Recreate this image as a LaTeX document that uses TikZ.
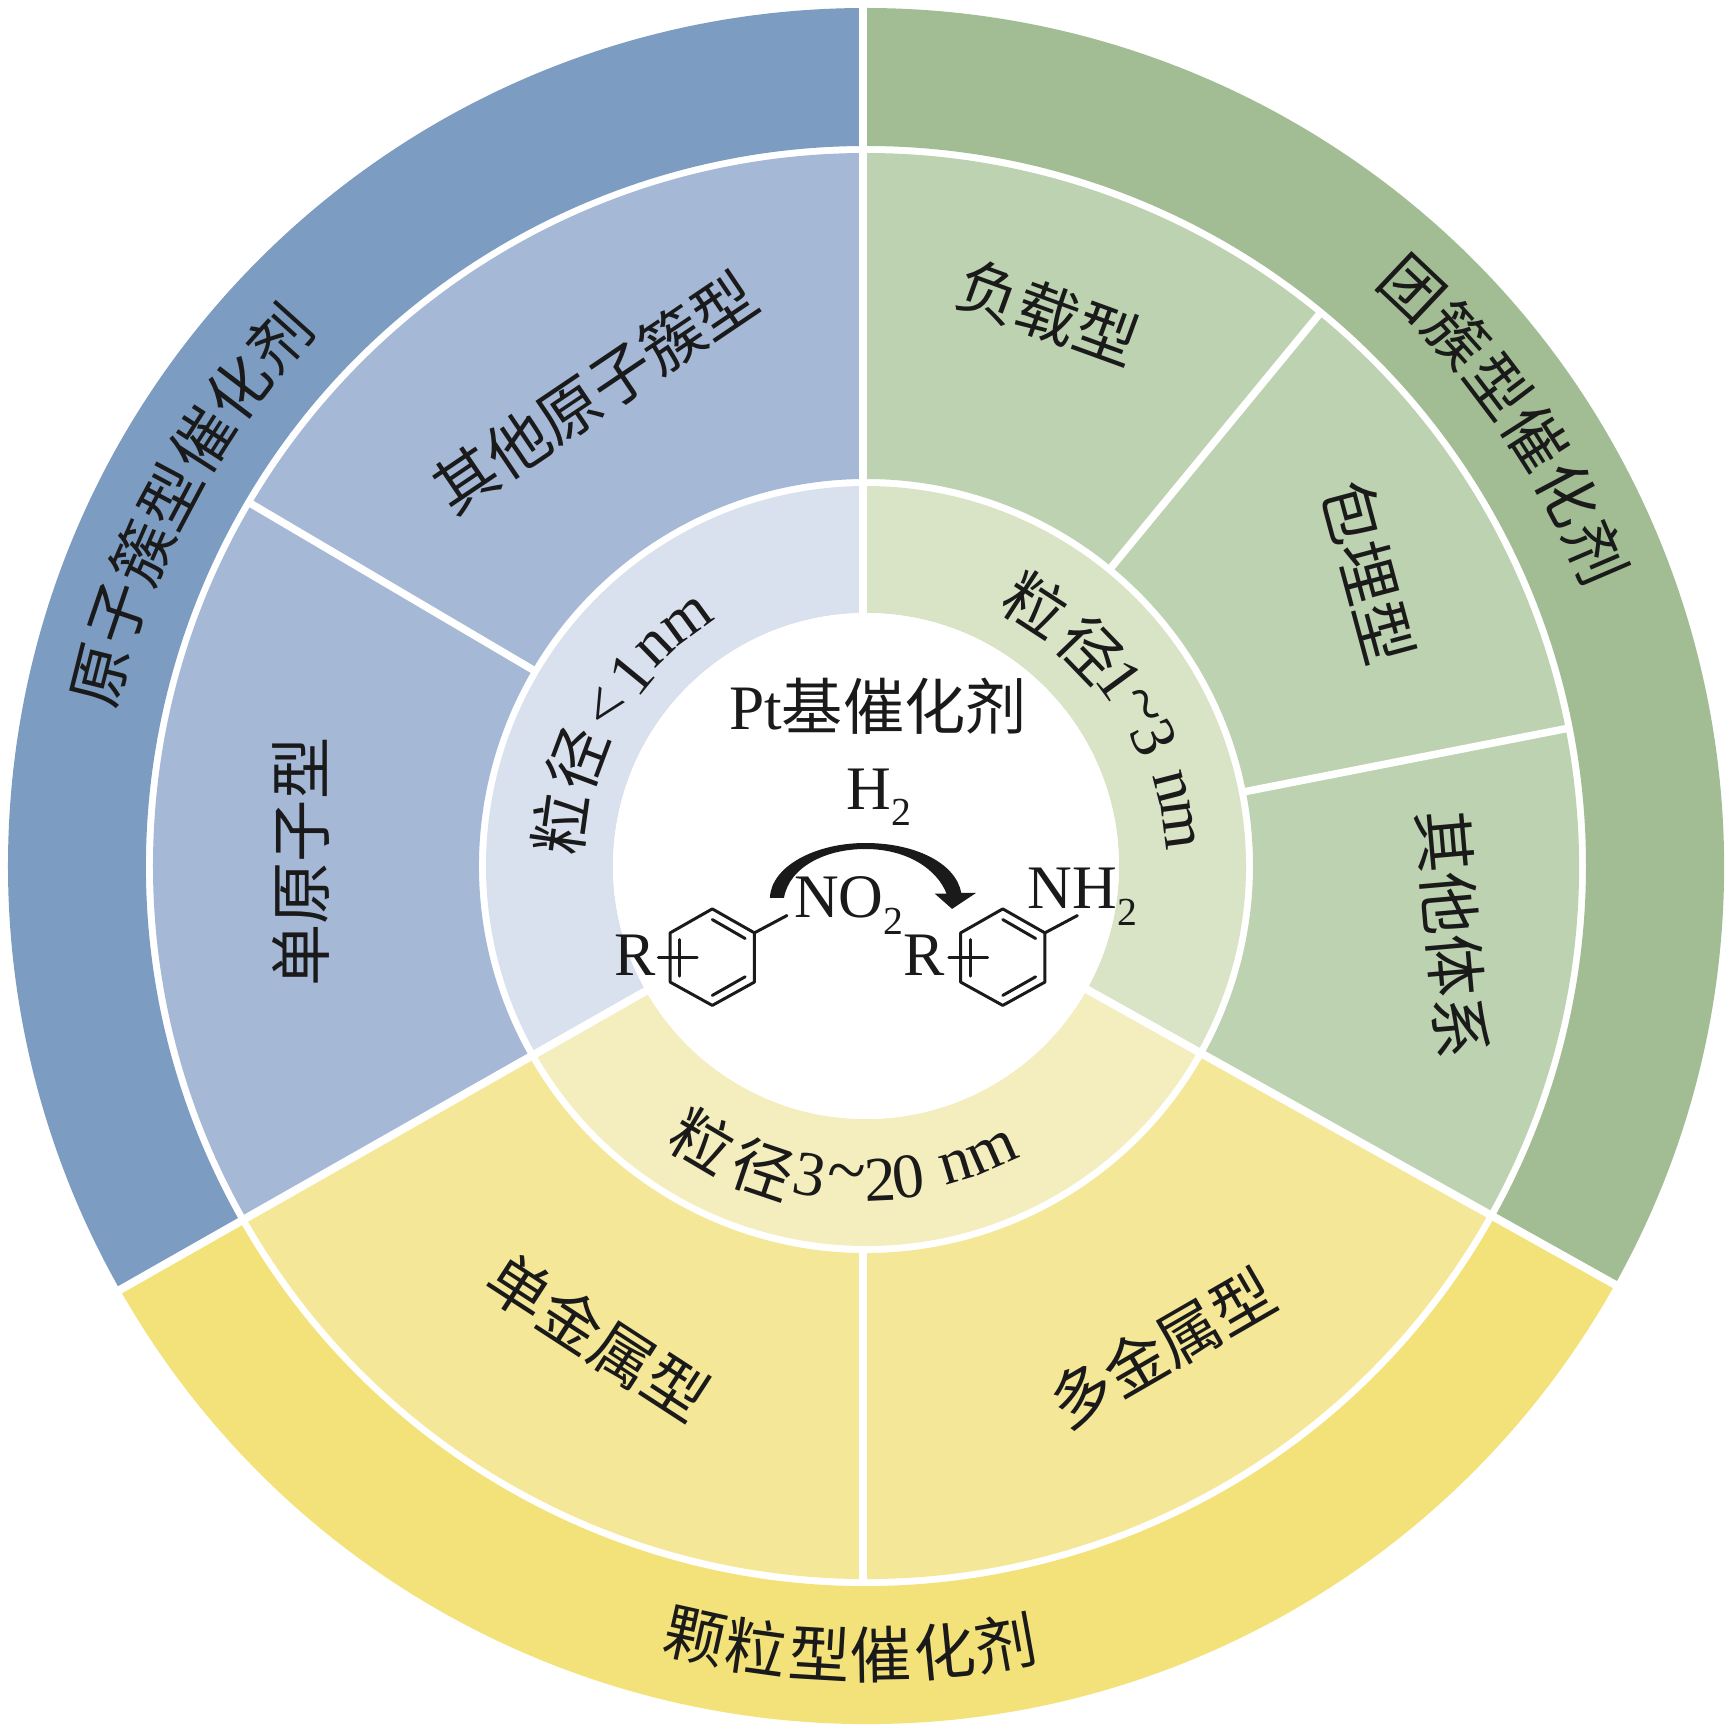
\documentclass[tikz,border=0pt]{standalone}
\usepackage{fontspec}
\setmainfont{Liberation Serif}
\newfontfamily\cjk{Noto Sans CJK SC}
\definecolor{bluA}{HTML}{7D9CC1}
\definecolor{bluB}{HTML}{A5B9D6}
\definecolor{bluC}{HTML}{D9E0EE}
\definecolor{grnA}{HTML}{A2BD94}
\definecolor{grnB}{HTML}{BDD2B0}
\definecolor{grnC}{HTML}{D9E3C5}
\definecolor{yelA}{HTML}{F3E27A}
\definecolor{yelB}{HTML}{F5E798}
\definecolor{yelC}{HTML}{F4EDBD}
\definecolor{ink}{HTML}{1A1A1A}
\newcommand{\sector}[5]{\fill[#1] (#2:#5) arc[start angle=#2,end angle=#3,radius=#5] -- (#3:#4) arc[start angle=#3,end angle=#2,radius=#4] -- cycle;}
\tikzset{
  lblbase/.style={inner sep=0pt,outer sep=0pt,text=ink},
  outerlbl/.style={lblbase,font=\fontsize{17.5pt}{20pt}\cjk},
  midlbl/.style={lblbase,font=\fontsize{17.7pt}{20pt}\cjk},
  ringlbl/.style={lblbase,font=\fontsize{17.5pt}{20pt}\cjk},
  ringlat/.style={lblbase,font=\fontsize{18pt}{20pt}\selectfont},
  chemlbl/.style={lblbase,anchor=base west,font=\fontsize{17.6pt}{20pt}\selectfont},
  chemsub/.style={lblbase,anchor=base west,font=\fontsize{11.3pt}{14pt}\selectfont},
  divider/.style={white,line width=8*0.2845pt},
  thindiv/.style={white,line width=7.5*0.2845pt},
  bond/.style={ink,line width=0.85pt,line cap=round,line join=round},
}
\begin{document}
\begin{tikzpicture}[x=0.01cm,y=0.01cm]
\useasboundingbox (-866,-867) rectangle (867,866);
% outer ring
\sector{bluA}{90}{209.6}{720}{858}
\sector{grnA}{-29.2}{90}{720}{858}
\sector{yelA}{209.6}{330.8}{720}{858}
% middle ring
\sector{bluB}{90}{209.6}{387}{713}
\sector{grnB}{-29.2}{90}{387}{713}
\sector{yelB}{209.6}{330.8}{387}{713}
% inner ring
\sector{bluC}{90}{209.6}{253}{380}
\sector{grnC}{-29.2}{90}{253}{380}
\sector{yelC}{209.6}{330.8}{253}{380}
% dividers
\coordinate (c) at (0,0);
\coordinate (vt) at (-3,870);
\coordinate (vb) at (-3,0);
\draw[divider] (vt) -- (vb);
\draw[divider] (c) -- (209.6:880);
\draw[divider] (c) -- (330.8:880);
\draw[thindiv] (149.5:384) -- (149.5:716);
\draw[thindiv] (50.6:384) -- (50.6:716);
\draw[thindiv] (11.1:384) -- (11.1:716);
\draw[thindiv] (-3,-384) -- (-3,-716);
\fill[white] (0,0) circle[radius=253];
% outer labels
\foreach \a/\ch [count=\i] in {166/原,161.3/子,156.6/簇,152/型,147.3/催,142.7/化,138/剂}
  \node[outerlbl,rotate=\a-90] (oa\i) at (\a:789) {\ch};
\foreach \a/\ch [count=\i] in {46.6/团,41.9/簇,37.2/型,32.6/催,27.9/化,23.2/剂}
  \node[outerlbl,rotate=\a-90] (ob\i) at (\a:795) {\ch};
\foreach \a/\ch [count=\i] in {257.5/颗,262/粒,266.6/型,271.1/催,275.7/化,280.2/剂}
  \node[outerlbl,rotate=\a+90] (oc\i) at (\a:789) {\ch};
% middle labels
\node[midlbl,rotate=34] (m1) at (-271,474) {其他原子簇型};
\node[midlbl,rotate=90] (m2) at (-565,4) {单原子型};
\node[midlbl,rotate=-20] (m3) at (182,553) {负载型};
\node[midlbl,rotate=-75] (m4) at (503,294) {包埋型};
\node[midlbl,rotate=-85] (m5) at (587,-68) {其他体系};
\node[midlbl,rotate=-33] (m6) at (-268,-471) {单金属型};
\node[midlbl,rotate=30] (m7) at (296,-482) {多金属型};
% ring labels
\foreach \a/\ch [count=\i] in {172.1/粒,159.5/径}
  \node[ringlbl,rotate=\a-90] (ra\i) at (\a:308) {\ch};
\foreach \a/\ch [count=\i] in {148.8/<,140.7/1,134/n,126/m}
  \node[ringlat,rotate=\a-90] (rb\i) at (\a:303) {\ch};
\foreach \a/\ch [count=\i] in {57/粒,44/径}
  \node[ringlbl,rotate=\a-90] (rc\i) at (\a:312) {\ch};
\foreach \a/\ch [count=\i] in {36.2/1,30/{\fontsize{20pt}{20pt}\selectfont\textasciitilde},24/3,14.5/n,7.4/m}
  \node[ringlat,rotate=\a-90] (rd\i) at (\a:315) {\ch};
\foreach \a/\ch [count=\i] in {239.4/粒,251.3/径}
  \node[ringlbl,rotate=\a+90] (re\i) at (\a:320) {\ch};
\foreach \a/\ch [count=\i] in {259.7/3,266.5/{\fontsize{20pt}{20pt}\selectfont\textasciitilde},272.6/2,277.7/0,286.7/n,293.8/m}
  \node[ringlat,rotate=\a+90] (rf\i) at (\a:314) {\ch};
% chemistry, in coordinates of the crop
\begin{scope}[shift={(-276,226)},x=0.003699cm,y=-0.0033333cm]
\node[lblbase] (pt) at (779,200) {\fontsize{18pt}{20pt}\selectfont Pt{\cjk\fontsize{17.4pt}{20pt}\selectfont 基催化剂}};
\node[chemlbl] (h) at (695,510) {H};
\node[chemsub] (h2) at (817,558) {2};
\node[chemlbl] (no) at (553,835) {NO};
\node[chemsub] (no2) at (795,885) {2};
\node[chemlbl] (r1) at (65,1008) {R};
\node[chemlbl] (r2) at (848,1008) {R};
\node[chemlbl] (nh) at (1185,806) {NH};
\node[chemsub] (nh2) at (1428,858) {2};
\foreach \dx/\nm in {0/p,785/q}{
\begin{scope}[xshift=\dx*0.03699mm]
\coordinate (\nm1) at (331,808);
\coordinate (\nm2) at (445,880);
\coordinate (\nm3) at (445,1028);
\coordinate (\nm4) at (331,1098);
\coordinate (\nm5) at (217,1028);
\coordinate (\nm6) at (217,880);
\draw[bond] (\nm1) -- (\nm2) -- (\nm3) -- (\nm4) -- (\nm5) -- (\nm6) -- cycle;
\draw[bond] (331,840) -- (420,897);
\draw[bond] (331,1068) -- (420,1012);
\draw[bond] (243,900) -- (243,1010);
\draw[bond] (185,953) -- (290,953);
\draw[bond] (\nm2) -- (533,828);
\end{scope}}
\fill[ink] (487,775) .. controls (490,680) and (610,610) .. (745,610) .. controls (880,610) and (990,670) .. (1005,760) -- (1045,760) -- (980,808) -- (933,762) -- (965,762) .. controls (940,690) and (860,628) .. (745,628) .. controls (640,628) and (540,680) .. (525,775) -- cycle;
\end{scope}
\end{tikzpicture}
\end{document}
